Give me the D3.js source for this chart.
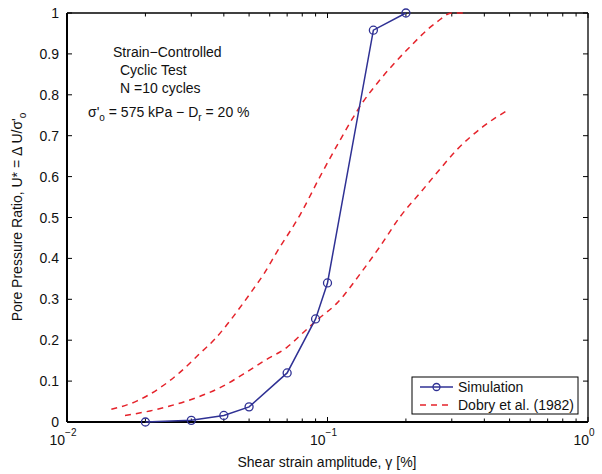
<!DOCTYPE html>
<html>
<head>
<meta charset="utf-8">
<script src="https://cdn.jsdelivr.net/npm/d3@7"></script>
<style>
  html, body { margin: 0; padding: 0; background: #fff; }
  svg { display: block; font-family: "Liberation Sans", Arial, Helvetica, sans-serif; }
</style>
</head>
<body>
<svg id="chart" width="602" height="474"></svg>
<script>
// Simulated pore pressure build-up vs. strain amplitude (N = 10 cycles)
const simStrain = [0.02, 0.03, 0.04, 0.05, 0.07, 0.09, 0.1, 0.15, 0.2];
const simRatio  = [0.0, 0.004, 0.016, 0.037, 0.12, 0.252, 0.34, 0.958, 1.0];

// Dobry et al. (1982) band: upper bound
const dobryUpperStrain = [0.0148, 0.0185, 0.0228, 0.0272, 0.0324, 0.037, 0.041, 0.0474, 0.0519, 0.0567, 0.0638, 0.0784, 0.0936, 0.1117, 0.137, 0.156, 0.202, 0.263, 0.30, 0.343];
const dobryUpperRatio  = [0.031, 0.051, 0.084, 0.122, 0.168, 0.203, 0.237, 0.29, 0.325, 0.36, 0.415, 0.506, 0.60, 0.689, 0.783, 0.83, 0.91, 0.978, 1.0, 1.0];

// Dobry et al. (1982) band: lower bound
const dobryLowerStrain = [0.0167, 0.0208, 0.0248, 0.0315, 0.0387, 0.0475, 0.0584, 0.0697, 0.0808, 0.0915, 0.1085, 0.137, 0.159, 0.190, 0.226, 0.262, 0.313, 0.395, 0.50];
const dobryLowerRatio  = [0.016, 0.027, 0.039, 0.060, 0.084, 0.117, 0.153, 0.182, 0.219, 0.25, 0.29, 0.372, 0.429, 0.502, 0.559, 0.608, 0.665, 0.722, 0.765];

const xDomain = [0.01, 1];
const yDomain = [0, 1];
const yTickValues = [0, 0.1, 0.2, 0.3, 0.4, 0.5, 0.6, 0.7, 0.8, 0.9, 1];
const xDecades = [-2, -1, 0];

const BLUE = "#2f3194";
const RED = "#e5232b";

const svg = d3.select("#chart");
const plotL = 67, plotR = 588, plotT = 13, plotB = 422;

const x = d3.scaleLog().domain(xDomain).range([plotL, plotR]);
const y = d3.scaleLinear().domain(yDomain).range([plotB, plotT]);

// Log ticks for the strain axis (majors at decades, minors at 2..9)
const xTicks = x.ticks();
const isMajor = v => Math.abs(Math.log10(v) - Math.round(Math.log10(v))) < 1e-9;

// Inward ticks along all four sides
const tickG = svg.append("g").attr("stroke", "#000").attr("stroke-width", 1);
xTicks.forEach(v => {
  const len = isMajor(v) ? 5 : 3.5;
  const px = x(v);
  tickG.append("line").attr("x1", px).attr("x2", px).attr("y1", plotB).attr("y2", plotB - len);
  tickG.append("line").attr("x1", px).attr("x2", px).attr("y1", plotT).attr("y2", plotT + len);
});
yTickValues.forEach(v => {
  const py = y(v);
  tickG.append("line").attr("x1", plotL).attr("x2", plotL + 5).attr("y1", py).attr("y2", py);
  tickG.append("line").attr("x1", plotR).attr("x2", plotR - 5).attr("y1", py).attr("y2", py);
});

// Axis box
svg.append("line").attr("x1", plotL).attr("x2", plotR).attr("y1", plotT).attr("y2", plotT)
  .attr("stroke", "#000").attr("stroke-width", 1.3);
svg.append("line").attr("x1", plotR).attr("x2", plotR).attr("y1", plotT).attr("y2", plotB)
  .attr("stroke", "#000").attr("stroke-width", 1.3);
svg.append("line").attr("x1", plotL).attr("x2", plotR).attr("y1", plotB).attr("y2", plotB)
  .attr("stroke", "#000").attr("stroke-width", 2);
svg.append("line").attr("x1", plotL).attr("x2", plotL).attr("y1", plotT).attr("y2", plotB)
  .attr("stroke", "#000").attr("stroke-width", 2);

// Y tick labels
svg.append("g").selectAll("text").data(yTickValues).join("text")
  .attr("x", plotL - 8).attr("y", d => y(d) + 5)
  .attr("text-anchor", "end").attr("font-size", 14).attr("fill", "#111")
  .text(d => d === 0 || d === 1 ? String(d) : d.toFixed(1));

// X tick labels as powers of ten
const xl = svg.append("g");
xDecades.forEach(e => {
  const t = xl.append("text").attr("x", x(Math.pow(10, e)) - 4).attr("y", 445)
    .attr("text-anchor", "middle").attr("font-size", 14).attr("fill", "#111");
  t.append("tspan").text("10");
  t.append("tspan").attr("dy", -9).attr("font-size", 10).text(e === 0 ? "0" : "\u2212" + Math.abs(e));
});

// Axis titles
svg.append("text").attr("x", 327).attr("y", 467).attr("text-anchor", "middle")
  .attr("font-size", 14).attr("fill", "#111")
  .text("Shear strain amplitude, \u03b3 [%]");

const yl = svg.append("text").attr("transform", "translate(22,217) rotate(-90)")
  .attr("text-anchor", "middle").attr("font-size", 14).attr("fill", "#111");
yl.append("tspan").text("Pore Pressure Ratio, U* = \u0394 U/\u03c3'");
yl.append("tspan").attr("dy", 4).attr("font-size", 10).text("o");

// Annotation block
const ann = svg.append("g").attr("font-size", 14).attr("fill", "#111");
ann.append("text").attr("x", 113).attr("y", 57).text("Strain\u2212Controlled");
ann.append("text").attr("x", 120).attr("y", 75).text("Cyclic Test");
ann.append("text").attr("x", 120).attr("y", 93).text("N =10 cycles");
const s = ann.append("text").attr("x", 88).attr("y", 117);
s.append("tspan").text("\u03c3'");
s.append("tspan").attr("dy", 4).attr("font-size", 10).text("o");
s.append("tspan").attr("dy", -4).text(" = 575 kPa \u2212 D");
s.append("tspan").attr("dy", 4).attr("font-size", 10).text("r");
s.append("tspan").attr("dy", -4).text(" = 20 %");

// Curves
const line = d3.line().x(d => x(d[0])).y(d => y(d[1]));
const upper = dobryUpperStrain.map((v, i) => [v, dobryUpperRatio[i]]);
const lower = dobryLowerStrain.map((v, i) => [v, dobryLowerRatio[i]]);
const sim = simStrain.map((v, i) => [v, simRatio[i]]);

const plot = svg.append("g");
[upper, lower].forEach(pts => {
  plot.append("path").attr("d", line.curve(d3.curveMonotoneX)(pts))
    .attr("fill", "none").attr("stroke", RED).attr("stroke-width", 1.5)
    .attr("stroke-dasharray", "6,5");
});
plot.append("path").attr("d", line.curve(d3.curveLinear)(sim))
  .attr("fill", "none").attr("stroke", BLUE).attr("stroke-width", 1.5);
plot.selectAll("circle").data(sim).join("circle")
  .attr("cx", d => x(d[0])).attr("cy", d => y(d[1])).attr("r", 4)
  .attr("fill", "none").attr("stroke", BLUE).attr("stroke-width", 1.3);

// Legend
const lg = svg.append("g");
lg.append("rect").attr("x", 412).attr("y", 377).attr("width", 166).attr("height", 37)
  .attr("fill", "#fff").attr("stroke", "#000").attr("stroke-width", 1);
lg.append("line").attr("x1", 420).attr("x2", 453).attr("y1", 387).attr("y2", 387)
  .attr("stroke", BLUE).attr("stroke-width", 1.5);
lg.append("circle").attr("cx", 436.5).attr("cy", 387).attr("r", 3.5)
  .attr("fill", "none").attr("stroke", BLUE).attr("stroke-width", 1.3);
lg.append("line").attr("x1", 420).attr("x2", 453).attr("y1", 405).attr("y2", 405)
  .attr("stroke", RED).attr("stroke-width", 1.5).attr("stroke-dasharray", "6,5");
lg.append("text").attr("x", 458).attr("y", 392).attr("font-size", 14).attr("fill", "#111").text("Simulation");
lg.append("text").attr("x", 458).attr("y", 410).attr("font-size", 14).attr("fill", "#111").text("Dobry et al. (1982)");
</script>
</body>
</html>
